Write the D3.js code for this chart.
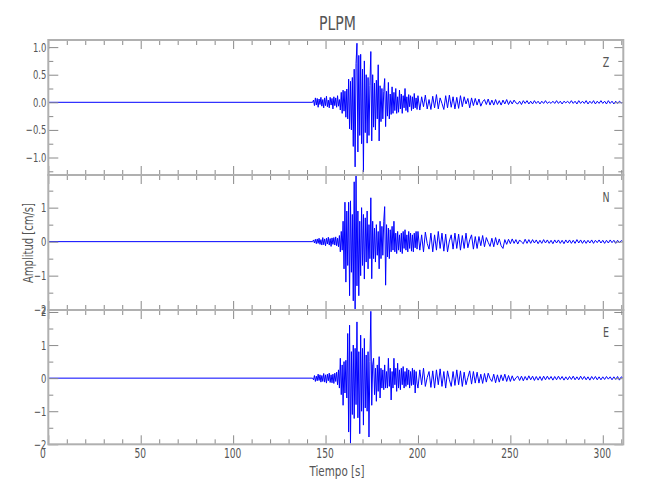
<!DOCTYPE html>
<html>
<head>
<meta charset="utf-8">
<script src="https://cdn.jsdelivr.net/npm/d3@7"></script>
<style>
  body { margin: 0; background: #fff; }
  text { font-family: "Liberation Sans Narrow", "DejaVu Sans Condensed", "Roboto Condensed", sans-serif; fill: #555; }
</style>
</head>
<body>
<div id="chart"></div>
<script>
// sampling of the hand-read traces
var strongT0 = 143, strongDt = 0.5;   // 143.0 .. 199.5 s
var codaT0 = 200, codaDt = 1;         // 200 .. 311 s

// Z component, strong motion part (cm/s)
var zStrong = [
  0, 0.04, -0.06, 0.08, -0.05, 0.07, -0.09, 0.06, -0.04, 0.09, -0.07,
  0.05, -0.1, 0.08, -0.06, 0.11, -0.08, 0.04, -0.1, 0.09, -0.05, 0.07, -0.12, 0.1, -0.06, 0.08, -0.09, 0.12, -0.07, 0.05,
  -0.14, 0.18, -0.2, 0.22, -0.16, 0.2, -0.27, 0.24,
  -0.3, 0.42, -0.48, 0.38, -0.5, 0.45,
  -0.8, 0.6, -1.17, 0.7,
  1.07, -0.9, 0.85, -0.6,
  0.87, -0.75, 0.6, -1.26,
  0.75, -0.55, 0.5, -0.74,
  0.45, -0.6, 0.3, 0.92,
  -0.7, 0.5, -0.45, 0.35,
  -0.5, 0.4, -0.3, 0.68,
  -0.7, 0.3, -0.35, 0.25,
  -0.3, 0.2, 0.43, -0.44,
  0.2, -0.25, 0.36, -0.3,
  0.15, -0.22, 0.28, -0.2,
  0.18, -0.15, 0.25, -0.2,
  0.1, -0.18, 0.22, -0.12,
  0.15, -0.2, 0.12, -0.1,
  0.25, -0.15, 0.1, -0.18,
  0.14, -0.08, 0.12, -0.15,
  0.1, -0.12, 0.16, -0.1, 0.08, -0.13
];
var zCoda = [
  0.12, -0.14, 0.1, -0.08, 0.13, -0.12, 0.05, -0.13, 0.11, -0.1,
  0.14, -0.12, 0.08, -0.02, -0.13, 0.12, -0.1, 0.13, -0.09, 0.1,
  -0.12, 0.09, -0.11, 0.12, -0.08, 0.1, -0.03, 0.07, -0.1, 0.08,
  -0.06, 0.07, -0.05, 0.06, -0.07, 0.01, 0.05, -0.04, 0.06, -0.05,
  0.04, -0.05, 0.05, -0.04, 0.03, -0.05, 0.04, -0.03, 0.05, -0.04,
  0.03, -0.03, 0.04, -0.01, -0.03, 0.02, -0.04, 0.03, -0.02, 0.03,
  -0.03, 0.02, -0.03, 0.03, -0.02, 0.02, -0.03, 0.02, -0.02, 0.03,
  -0.02, 0.01, -0.02, 0.02, -0.02, 0.03, -0.02, 0.02, -0.03, 0.02,
  -0.01, 0.02, -0.02, 0.03, -0.02, 0.02, -0.03, 0.03, -0.02, 0.02,
  -0.02, 0.03, -0.03, 0.02, -0.02, 0.03, -0.03, 0.02, -0.02, 0.03,
  -0.02, 0.02, -0.03, 0.03, -0.02, 0.02, -0.03, 0.02, -0.02, 0.02,
  -0.01, 0
];

// N component
var nStrong = [
  0, 0.05, -0.04, 0.07, -0.06, 0.08, -0.05, 0.1, -0.08, 0.06, -0.1,
  0.12, -0.09, 0.08, -0.12, 0.1, -0.07, 0.13, -0.1, 0.09, -0.14, 0.11, -0.08, 0.12, -0.1, 0.14, -0.12, 0.1, -0.15, 0.18,
  -0.3, 0.3, -0.25, 0.6, -0.8, 1.16, -1.19, 0.9,
  -0.7, 1.16, -1.59, 1.2, -0.9, 0.8,
  -1.74, 1.76, -1.98, 1.94,
  -1.3, 0.9, -1.59, 0.6,
  -1.0, 1.0, -0.7, 0.8,
  -1.1, 0.7, -0.6, 0.9,
  -0.8, 0.5, -0.5, 1.29,
  -1.09, 0.6, -0.5, 0.4,
  -0.6, 0.5, -0.4, 0.3,
  -0.8, 0.6, -0.5, 0.45,
  -0.4, 0.6, 1.03, -1.28,
  0.5, -0.45, 0.4, -0.5,
  0.35, -0.3, 0.45, -0.25,
  0.6, -0.3, 0.25, -0.35,
  0.3, -0.25, 0.2, -0.3,
  0.25, -0.35, 0.3, -0.2,
  0.35, -0.25, 0.2, -0.3,
  0.3, -0.2, 0.25, -0.28,
  0.2, -0.3, 0.25, -0.18, 0.3, -0.22
];
var nCoda = [
  0.3, -0.25, 0.2, -0.3, 0.28, -0.05, -0.22, 0.25, -0.3, 0.2,
  -0.25, 0.3, -0.2, 0.25, -0.28, 0.22, -0.3, 0.02, 0.2, -0.22,
  0.25, -0.2, 0.22, -0.25, 0.18, -0.2, 0.25, -0.18, 0.05, 0.2,
  -0.22, 0.15, -0.2, 0.15, -0.12, 0.18, -0.15, 0.12, -0.02, -0.14,
  0.1, -0.15, 0.12, -0.1, 0.08, -0.12, -0.2, 0.06, -0.08, 0.07,
  -0.06, 0.08, -0.05, 0.06, -0.07, 0.05, -0.01, -0.06, 0.07, -0.05,
  0.06, -0.05, 0.06, -0.04, 0.05, -0.06, 0.04, -0.05, 0.06, -0.04,
  0.05, -0.05, 0.04, -0.06, 0.05, -0.04, 0.05, -0.05, 0.04, -0.06,
  0.05, -0.04, 0.05, -0.05, 0.04, -0.05, 0.06, -0.04, 0.05, -0.05,
  0.04, -0.05, 0.04, -0.04, 0.05, -0.05, 0.04, -0.03, 0.05, -0.04,
  0.04, -0.05, 0.04, -0.04, 0.05, -0.03, 0.04, -0.05, 0.04, -0.03,
  0.03, 0
];

// E component
var eStrong = [
  0, -0.05, 0.08, -0.1, 0.06, -0.08, 0.12, -0.07, 0.1, -0.12, 0.08,
  -0.1, 0.14, -0.12, 0.1, -0.15, 0.12, -0.08, 0.15, -0.13, 0.1, -0.14, 0.12, -0.16, 0.15, -0.1, 0.18, -0.2, 0.25, -0.3,
  0.6, -0.5, 0.4, -0.82, 0.5, -0.45, 0.54, -0.6,
  1.35, -1.63, 1.6, -1.97, 0.8, -1.1,
  1.0, -1.22, 0.9, -0.8,
  1.7, -1.2, 0.8, -1.68,
  1.3, -1.0, 0.9, -1.42,
  1.2, -0.9, 0.7, -1.0,
  0.8, -1.78, 0.5, 2.02,
  -0.82, 0.4, 0.6, -0.5,
  0.3, -0.7, 0.4, -0.4,
  0.65, -0.6, 0.3, -0.3,
  0.25, -0.35, 0.4, -0.3,
  0.2, -0.3, 0.6, -0.25,
  0.3, -0.66, 0.2, -0.3,
  0.6, -0.2, 0.3, -0.4,
  0.45, -0.3, 0.25, -0.35,
  0.3, -0.2, 0.35, -0.3,
  0.2, -0.25, 0.3, -0.2,
  0.25, -0.3, 0.2, -0.22,
  0.3, -0.2, 0.25, -0.45, 0.2, -0.15
];
var eCoda = [
  -0.3, 0.25, -0.2, 0.3, -0.25, 0.02, 0.2, -0.28, 0.22, -0.3,
  0.25, -0.2, 0.28, -0.25, 0.2, -0.3, 0.22, -0.05, -0.25, 0.2,
  -0.22, 0.25, -0.2, 0.22, -0.25, 0.18, -0.2, 0.02, 0.22, -0.18,
  0.2, -0.15, 0.18, -0.15, 0.12, -0.16, 0.14, -0.12, 0.15, -0.01,
  -0.1, 0.12, -0.14, 0.1, -0.12, 0.1, -0.08, 0.12, -0.1, 0.08,
  -0.1, 0.07, -0.08, 0.01, 0.06, -0.07, 0.06, -0.08, 0.05, -0.06,
  0.07, -0.05, 0.06, -0.07, 0.05, -0.06, 0.05, -0.07, 0.06, -0.05,
  0.06, -0.04, 0.05, -0.06, 0.05, -0.05, 0.06, -0.04, 0.05, -0.06,
  0.04, -0.05, 0.05, -0.04, 0.06, -0.05, 0.04, -0.05, 0.06, -0.04,
  0.05, -0.05, 0.04, -0.06, 0.05, -0.04, 0.05, -0.05, 0.04, -0.05,
  0.04, -0.04, 0.05, -0.03, 0.04, -0.05, 0.04, -0.04, 0.05, -0.06,
  0.04, 0
];

// axes
var components = ["Z", "N", "E"];
var yDomains = [[-1.317, 1.129], [-2.01, 1.96], [-2.0, 2.06]];
var yMajor = [[-1.0, -0.5, 0.0, 0.5, 1.0], [-2, -1, 0, 1], [-2, -1, 0, 1, 2]];
var yMinor = [[-1.25, -0.75, -0.25, 0.25, 0.75], [-1.5, -0.5, 0.5, 1.5], [-1.5, -0.5, 0.5, 1.5]];
var yFormats = [".1f", "d", "d"];
var xMajor = [0, 50, 100, 150, 200, 250, 300];
var xMinor = [10, 20, 30, 40, 60, 70, 80, 90, 110, 120, 130, 140, 160, 170, 180, 190,
              210, 220, 230, 240, 260, 270, 280, 290, 310];
var xDomain = [0, 311.1];

var width = 650, height = 500;
var left = 48.3, right = 623.3;
var panelTops = [40, 175, 310], panelBottoms = [175, 310, 444.3];
var narrow = 0.75;   // squeeze the condensed font to the plot's narrow lettering

function toPoints(strong, coda) {
    var pts = [{t: 0, v: 0}];
    strong.forEach(function(v, i) { pts.push({t: strongT0 + i * strongDt, v: v}); });
    coda.forEach(function(v, i) { pts.push({t: codaT0 + i * codaDt, v: v}); });
    return pts;
}
var traces = [toPoints(zStrong, zCoda), toPoints(nStrong, nCoda), toPoints(eStrong, eCoda)];

function squeeze(sel) {
    sel.attr("textLength", function() { return this.getComputedTextLength() * narrow; })
        .attr("lengthAdjust", "spacingAndGlyphs");
}

var svg = d3.select("#chart").append("svg")
    .attr("width", width)
    .attr("height", height);

var x = d3.scaleLinear().domain(xDomain).range([left, right]);

traces.forEach(function(data, k) {
    var top = panelTops[k], bottom = panelBottoms[k];
    var y = d3.scaleLinear().domain(yDomains[k]).range([bottom, top]);
    var g = svg.append("g").attr("class", "panel");

    svg.append("clipPath").attr("id", "clip" + k)
        .append("rect")
        .attr("x", left).attr("y", top)
        .attr("width", right - left).attr("height", bottom - top);

    // waveform
    var line = d3.line()
        .x(function(d) { return x(d.t); })
        .y(function(d) { return y(d.v); });
    g.append("path")
        .datum(data)
        .attr("clip-path", "url(#clip" + k + ")")
        .attr("d", line)
        .attr("fill", "none")
        .attr("stroke", "#0000ff")
        .attr("stroke-width", 1);

    // ticks on all four sides, pointing inward
    function ticks(axis, tx, ty) {
        var a = g.append("g")
            .attr("transform", "translate(" + tx + "," + ty + ")")
            .call(axis);
        a.select(".domain").remove();
        a.selectAll("line").attr("stroke", "#8a8a8a");
        return a;
    }
    ticks(d3.axisBottom(x).tickValues(xMajor).tickSize(9).tickFormat(""), 0, top);
    ticks(d3.axisBottom(x).tickValues(xMinor).tickSize(5).tickFormat(""), 0, top);
    ticks(d3.axisTop(x).tickValues(xMajor).tickSize(9).tickFormat(""), 0, bottom);
    ticks(d3.axisTop(x).tickValues(xMinor).tickSize(5).tickFormat(""), 0, bottom);
    ticks(d3.axisLeft(y).tickValues(yMinor[k]).tickSizeInner(-5).tickFormat(""), left, 0);
    ticks(d3.axisLeft(y).tickValues(yMinor[k]).tickSize(5).tickFormat(""), right, 0);
    ticks(d3.axisLeft(y).tickValues(yMajor[k]).tickSize(9).tickFormat(""), right, 0);
    var yl = ticks(d3.axisLeft(y).tickValues(yMajor[k]).tickSizeInner(-10).tickSizeOuter(0)
        .tickPadding(2).tickFormat(d3.format(yFormats[k])), left, 0);
    yl.selectAll("text").attr("font-size", 12.5).style("font-family", null).attr("fill", "#555")
        .call(squeeze);

    // x labels only on the bottom panel
    if (k === traces.length - 1) {
        var xl = ticks(d3.axisBottom(x).tickValues(xMajor).tickSize(0).tickPadding(4), 0, bottom);
        xl.selectAll("text").attr("font-size", 13.5).style("font-family", null).attr("fill", "#555")
            .attr("dx", function(d) { return d === 0 ? -6 : -1; })
            .call(squeeze);
    }

    // frame
    g.append("rect")
        .attr("x", left).attr("y", top)
        .attr("width", right - left).attr("height", bottom - top)
        .attr("fill", "none")
        .attr("stroke", "#b0b0b0")
        .attr("stroke-width", 2);

    // component letter
    g.append("text")
        .attr("x", 606).attr("y", top + 26.7)
        .attr("text-anchor", "middle")
        .attr("font-size", 14)
        .text(components[k])
        .call(squeeze);
});

// titles
svg.append("text")
    .attr("x", 337.5).attr("y", 30)
    .attr("text-anchor", "middle")
    .attr("font-size", 19)
    .attr("textLength", 37).attr("lengthAdjust", "spacingAndGlyphs")
    .text("PLPM");

svg.append("text")
    .attr("x", 337).attr("y", 476)
    .attr("text-anchor", "middle")
    .attr("font-size", 14)
    .attr("textLength", 55).attr("lengthAdjust", "spacingAndGlyphs")
    .text("Tiempo [s]");

svg.append("text")
    .attr("transform", "translate(33,243) rotate(-90)")
    .attr("text-anchor", "middle")
    .attr("font-size", 14)
    .attr("textLength", 80).attr("lengthAdjust", "spacingAndGlyphs")
    .text("Amplitud [cm/s]");
</script>
</body>
</html>
